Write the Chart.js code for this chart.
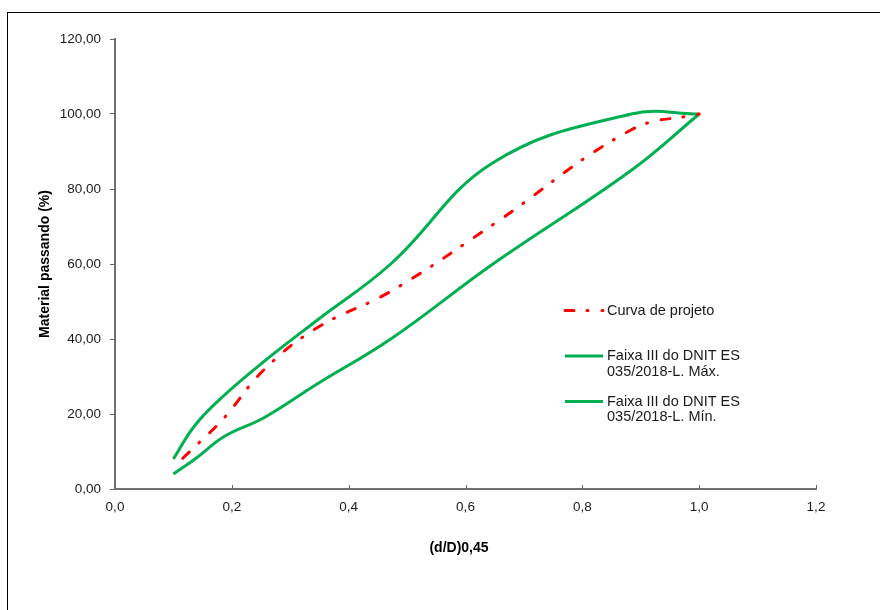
<!DOCTYPE html>
<html lang="pt">
<head>
<meta charset="UTF-8">
<title>Curva granulométrica</title>
<script src="https://cdn.jsdelivr.net/npm/chart.js"></script>
<style>
  body { margin: 0; background: #fff; }
</style>
</head>
<body>
<canvas id="myChart" width="880" height="610"></canvas>
<script>
    // (d/D)^0,45 das peneiras (D = 12,5 mm)
    const xFaixa = [0.100, 0.137, 0.187, 0.255, 0.346, 0.472, 0.647, 0.884, 1.000];
    const faixaMax = [8, 17, 25, 34, 45, 60, 87, 100, 100];
    const faixaMin = [4, 8, 14, 19, 28, 40, 60, 85, 100];

    const xProjeto = [0.116, 0.137, 0.187, 0.255, 0.346, 0.472, 0.647, 0.884, 1.000];
    const projeto = [8.2, 11.3, 19.0, 31.8, 43.0, 52.7, 70.5, 95.8, 100];

    const xTicks = [0, 0.2, 0.4, 0.6, 0.8, 1.0, 1.2];
    const yTicks = [0, 20, 40, 60, 80, 100, 120];

    const labelProjeto = 'Curva de projeto';
    const labelMax = ['Faixa III do DNIT ES', '035/2018-L. Máx.'];
    const labelMin = ['Faixa III do DNIT ES', '035/2018-L. Mín.'];
    const xTitle = '(d/D)0,45';
    const yTitle = 'Material passando (%)';

    function pts(xs, ys) {
        return xs.map((x, i) => ({ x: x, y: ys[i] }));
    }

    const redDash = [9, 13, 1, 14];
    const green = '#00B050';
    const red = '#FF0000';
    const font = 'Liberation Sans, Arial, sans-serif';

    const framePlugin = {
        id: 'frame',
        beforeDraw(chart) {
            const c = chart.ctx;
            c.save();
            c.fillStyle = '#fff';
            c.fillRect(0, 0, chart.width, chart.height);
            c.strokeStyle = '#000';
            c.lineWidth = 1;
            c.strokeRect(7.5, 12.5, chart.width + 10, chart.height + 10);
            c.restore();
        },
        afterDraw(chart) {
            const c = chart.ctx;
            const xs = chart.scales.x;
            const ys = chart.scales.y;
            c.save();
            // marcas do eixo x (para dentro)
            c.strokeStyle = '#666';
            c.lineWidth = 1;
            xTicks.forEach(v => {
                const px = Math.round(xs.getPixelForValue(v)) + 0.5;
                c.beginPath();
                c.moveTo(px, ys.bottom);
                c.lineTo(px, ys.bottom - 4);
                c.stroke();
            });
            // titulos dos eixos
            c.fillStyle = '#000';
            c.font = 'bold 14px ' + font;
            c.textAlign = 'center';
            c.textBaseline = 'middle';
            c.fillText(xTitle, 459, 548);
            c.translate(45, 264);
            c.rotate(-Math.PI / 2);
            c.fillText(yTitle, 0, 0);
            c.restore();

            // legenda
            const items = chart.data.datasets.map(d => ({ lines: d.legendLines, color: d.borderColor, dash: d.borderDash || [] }));
            const ly = [310.5, 356, 401.5];
            c.save();
            c.font = '14.5px ' + font;
            c.textAlign = 'left';
            c.textBaseline = 'middle';
            items.forEach((it, i) => {
                c.strokeStyle = it.color;
                c.lineWidth = 3;
                c.lineCap = it.dash.length ? 'round' : 'butt';
                c.setLineDash(it.dash);
                c.beginPath();
                c.moveTo(565, ly[i]);
                c.lineTo(603, ly[i]);
                c.stroke();
                c.setLineDash([]);
                c.fillStyle = '#1a1a1a';
                it.lines.forEach((t, j) => c.fillText(t, 607, ly[i] + j * 15.5));
            });
            c.restore();
        }
    };

    const ctx = document.getElementById('myChart').getContext('2d');
    const myChart = new Chart(ctx, {
        type: 'scatter',
        data: {
            datasets: [
                {
                    label: labelProjeto,
                    legendLines: [labelProjeto],
                    data: pts(xProjeto, projeto),
                    borderColor: red,
                    borderWidth: 3,
                    borderDash: redDash,
                    borderCapStyle: 'round',
                    showLine: true,
                    tension: 0.4,
                    pointRadius: 0
                },
                {
                    label: labelMax.join(' '),
                    legendLines: labelMax,
                    data: pts(xFaixa, faixaMax),
                    borderColor: green,
                    borderWidth: 3,
                    showLine: true,
                    tension: 0.4,
                    pointRadius: 0
                },
                {
                    label: labelMin.join(' '),
                    legendLines: labelMin,
                    data: pts(xFaixa, faixaMin),
                    borderColor: green,
                    borderWidth: 3,
                    showLine: true,
                    tension: 0.4,
                    pointRadius: 0
                }
            ]
        },
        options: {
            responsive: false,
            animation: false,
            layout: { padding: { top: 39, right: 64, left: 0, bottom: 0 } },
            plugins: {
                legend: { display: false },
                tooltip: { enabled: false }
            },
            scales: {
                x: {
                    type: 'linear',
                    min: 0,
                    max: 1.2,
                    afterBuildTicks: s => { s.ticks = xTicks.map(v => ({ value: v })); },
                    afterFit: s => { s.height = 121; },
                    grid: { drawOnChartArea: false, drawTicks: false },
                    border: { color: '#707070', width: 2 },
                    ticks: {
                        padding: 10,
                        color: '#1a1a1a',
                        font: { family: font, size: 13.5 },
                        maxRotation: 0,
                        callback: v => v.toFixed(1).replace('.', ',')
                    }
                },
                y: {
                    min: 0,
                    max: 120,
                    afterBuildTicks: s => { s.ticks = yTicks.map(v => ({ value: v })); },
                    afterFit: s => { s.width = 115; },
                    grid: { drawOnChartArea: false, drawTicks: true, tickLength: 5, color: '#666' },
                    border: { color: '#707070', width: 2 },
                    ticks: {
                        padding: 9,
                        color: '#1a1a1a',
                        font: { family: font, size: 13.5 },
                        callback: v => v.toFixed(2).replace('.', ',')
                    }
                }
            }
        },
        plugins: [framePlugin]
    });
</script>
</body>
</html>
